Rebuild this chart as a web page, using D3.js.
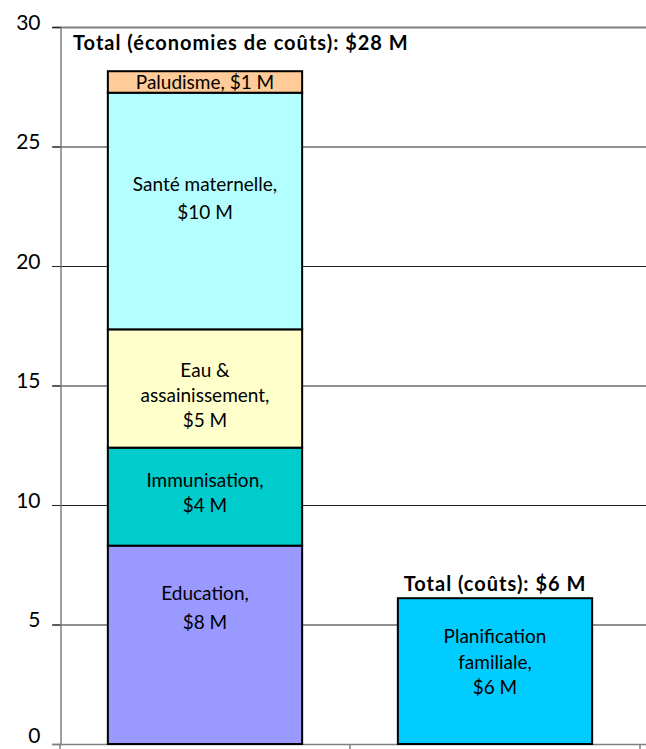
<!DOCTYPE html>
<html>
<head>
<meta charset="utf-8">
<script src="https://cdn.jsdelivr.net/npm/d3@7"></script>
<style>
  body { margin: 0; background: #fff; }
  svg text { font-family: Lato, "Open Sans", sans-serif; fill: #000; }
</style>
</head>
<body>
<svg id="chart" width="646" height="749"></svg>
<script>
// bar categories (x axis has no labels in the picture)
var categories = ["economies", "couts"];

// stacked segments, bottom to top, in $ millions
var segNames = ["Education", "Immunisation", "Eau & assainissement", "Santé maternelle", "Paludisme", "Planification familiale"];
var segCategory = ["economies", "economies", "economies", "economies", "economies", "couts"];
var segValues = [8.3, 4.1, 4.95, 9.9, 0.9, 6.1];
var segColors = ["#9999ff", "#00cccc", "#ffffcc", "#b3ffff", "#ffcc99", "#00ccff"];
// label lines for each segment
var segLabels = [
  ["Education,", "$8 M"],
  ["Immunisation,", "$4 M"],
  ["Eau &", "assainissement,", "$5 M"],
  ["Santé maternelle,", "$10 M"],
  ["Paludisme, $1 M"],
  ["Planification", "familiale,", "$6 M"]
];

var totalLabels = ["Total (économies de coûts): $28 M", "Total (coûts): $6 M"];
var yTicks = [0, 5, 10, 15, 20, 25, 30];

var svg = d3.select("#chart");
var plotLeft = 60, plotRight = 640, plotTop = 27, plotBottom = 744;

// where each label block sits below its segment top, and its line spacing
var labelLayout = {
  "Education": [62.5, 29],
  "Immunisation": [45.5, 25],
  "Eau & assainissement": [66, 25],
  "Santé maternelle": [106, 28],
  "Paludisme": [11, 26],
  "Planification familiale": [64, 25.5]
};

var x = d3.scaleBand().domain(categories).range([plotLeft, plotRight]).paddingInner(0.33).paddingOuter(0.165);
var y = d3.scaleLinear().domain([0, 30]).range([plotBottom, plotTop]);

// gridlines
svg.append("g").selectAll("line")
  .data(yTicks.filter(function(d) { return d > 0 && d < 30; }))
  .join("line")
  .attr("x1", plotLeft - 8).attr("x2", 646)
  .attr("y1", function(d) { return y(d) + 0.5; })
  .attr("y2", function(d) { return y(d) + 0.5; })
  .attr("stroke", "#222").attr("stroke-width", 1);

// top border
svg.append("line")
  .attr("x1", plotLeft - 8).attr("x2", 646)
  .attr("y1", y(30) + 0.5).attr("y2", y(30) + 0.5)
  .attr("stroke", "#808080").attr("stroke-width", 2);

// y axis
var yAxis = d3.axisLeft(y).tickValues(yTicks).tickSize(8).tickFormat(d3.format("d"));
var gy = svg.append("g").attr("transform", "translate(" + (plotLeft + 0.5) + ",0)").call(yAxis);
gy.select(".domain").attr("stroke", "#808080").attr("stroke-width", 1.5);
gy.selectAll(".tick line").attr("stroke", "#222");
gy.selectAll(".tick text")
  .attr("x", -20)
  .attr("dy", function(d) { return d == 0 ? "-0.08em" : "0.1em"; })
  .style("font-size", "21px").style("font-family", "Lato, sans-serif");

// x axis with category boundary ticks
var gx = svg.append("g").attr("transform", "translate(0," + (plotBottom + 0.5) + ")");
gx.append("line").attr("x1", plotLeft - 8).attr("x2", 646)
  .attr("stroke", "#808080").attr("stroke-width", 1.5);
var bounds = [plotLeft, (x("economies") + x.bandwidth() + x("couts")) / 2, plotRight];
gx.selectAll("line.t").data(bounds).join("line").attr("class", "t")
  .attr("x1", function(d) { return d; }).attr("x2", function(d) { return d; })
  .attr("y1", 0).attr("y2", 6)
  .attr("stroke", "#808080").attr("stroke-width", 1.5);

// stack positions
var base = {};
var segs = segValues.map(function(v, i) {
  var c = segCategory[i];
  var y0 = base[c] || 0;
  base[c] = y0 + v;
  return { name: segNames[i], cat: c, y0: y0, y1: y0 + v, color: segColors[i], lines: segLabels[i] };
});

svg.append("g").selectAll("rect")
  .data(segs)
  .join("rect")
  .attr("x", function(d) { return x(d.cat); })
  .attr("width", x.bandwidth())
  .attr("y", function(d) { return y(d.y1); })
  .attr("height", function(d) { return y(d.y0) - y(d.y1); })
  .attr("fill", function(d) { return d.color; })
  .attr("stroke", "#000").attr("stroke-width", 2);

// segment labels
var lab = svg.append("g").selectAll("text")
  .data(segs)
  .join("text")
  .attr("text-anchor", "middle")
  .style("font-size", "19px")
  .attr("x", function(d) { return x(d.cat) + x.bandwidth() / 2; })
  .attr("y", function(d) {
    var lay = labelLayout[d.name];
    var mid = y(d.y1) + lay[0];
    return mid - (d.lines.length - 1) * lay[1] / 2;
  });
lab.selectAll("tspan")
  .data(function(d) {
    var lay = labelLayout[d.name];
    return d.lines.map(function(t, i) { return { t: t, i: i, h: lay[1], x: x(d.cat) + x.bandwidth() / 2 }; });
  })
  .join("tspan")
  .attr("x", function(d) { return d.x; })
  .attr("dy", function(d) { return d.i == 0 ? "0.35em" : d.h; })
  .text(function(d) { return d.t; });

// totals
svg.append("text")
  .attr("x", 73).attr("y", y(30) + 16).attr("dy", "0.35em")
  .style("font-size", "20px").style("font-weight", "bold").style("letter-spacing", "1px")
  .text(totalLabels[0]);
svg.append("text")
  .attr("x", x("couts") + x.bandwidth() / 2)
  .attr("y", y(base["couts"]) - 14).attr("dy", "0.35em")
  .attr("text-anchor", "middle")
  .style("font-size", "20px").style("font-weight", "bold").style("letter-spacing", "1px")
  .text(totalLabels[1]);
</script>
</body>
</html>
